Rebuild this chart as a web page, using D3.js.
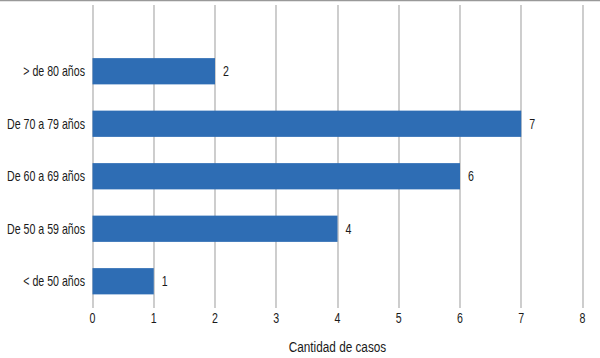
<!DOCTYPE html>
<html><head><meta charset="utf-8">
<script src="https://cdn.jsdelivr.net/npm/d3@7"></script>
<style>
html,body{margin:0;padding:0;background:#fff;}
svg{display:block;font-family:"Liberation Sans Narrow","Arial Narrow","Liberation Sans",sans-serif;}
</style></head>
<body><svg id="c" width="600" height="358"></svg>
<script>
const categories = ["> de 80 años","De 70 a 79 años","De 60 a 69 años","De 50 a 59 años","< de 50 años"];
const values = [2,7,6,4,1];
const xTicks = [0,1,2,3,4,5,6,7,8];
const xTitle = "Cantidad de casos";

const SX = 0.76; // condensed look
const svg = d3.select("#c");
const x = d3.scaleLinear().domain([0,8]).range([92.5,582.5]);
const y = d3.scaleBand().domain(categories).range([45,307.5]).paddingInner(0.5).paddingOuter(0.25);
const tf = (px,py)=>`translate(${px},${py}) scale(${SX},1)`;

// top frame line
svg.append("line").attr("x1",0).attr("x2",600).attr("y1",0.5).attr("y2",0.5)
  .attr("stroke","#999").attr("stroke-width",1.5);

// gridlines
svg.append("g").selectAll("line").data(xTicks).join("line")
  .attr("x1",d=>Math.round(x(d))).attr("x2",d=>Math.round(x(d)))
  .attr("y1",5).attr("y2",308)
  .attr("stroke","#b3b3b3").attr("stroke-width",1.3);

// bars
svg.append("g").selectAll("rect").data(values).join("rect")
  .attr("x",x(0)).attr("y",(d,i)=>y(categories[i]))
  .attr("width",d=>x(d)-x(0)).attr("height",y.bandwidth())
  .attr("fill","#2e6db4");

// value labels
svg.append("g").selectAll("text").data(values).join("text")
  .attr("transform",(d,i)=>tf(x(d)+8, y(categories[i])+y.bandwidth()/2))
  .attr("dy","0.35em").attr("font-size",14).attr("fill","#1a1a1a").text(d=>d);

// category labels
svg.append("g").selectAll("text").data(categories).join("text")
  .attr("transform",d=>tf(85, y(d)+y.bandwidth()/2))
  .attr("dy","0.35em").attr("text-anchor","end").attr("font-size",14).attr("fill","#1a1a1a").text(d=>d);

// x tick labels
svg.append("g").selectAll("text").data(xTicks).join("text")
  .attr("transform",d=>tf(x(d),318))
  .attr("dy","0.35em").attr("text-anchor","middle").attr("font-size",14).attr("fill","#1a1a1a").text(d=>d);

// x title
svg.append("text").attr("transform",tf((x(0)+x(8))/2,347)).attr("dy","0.35em")
  .attr("text-anchor","middle").attr("font-size",15.5).attr("fill","#1a1a1a").text(xTitle);
</script></body></html>
